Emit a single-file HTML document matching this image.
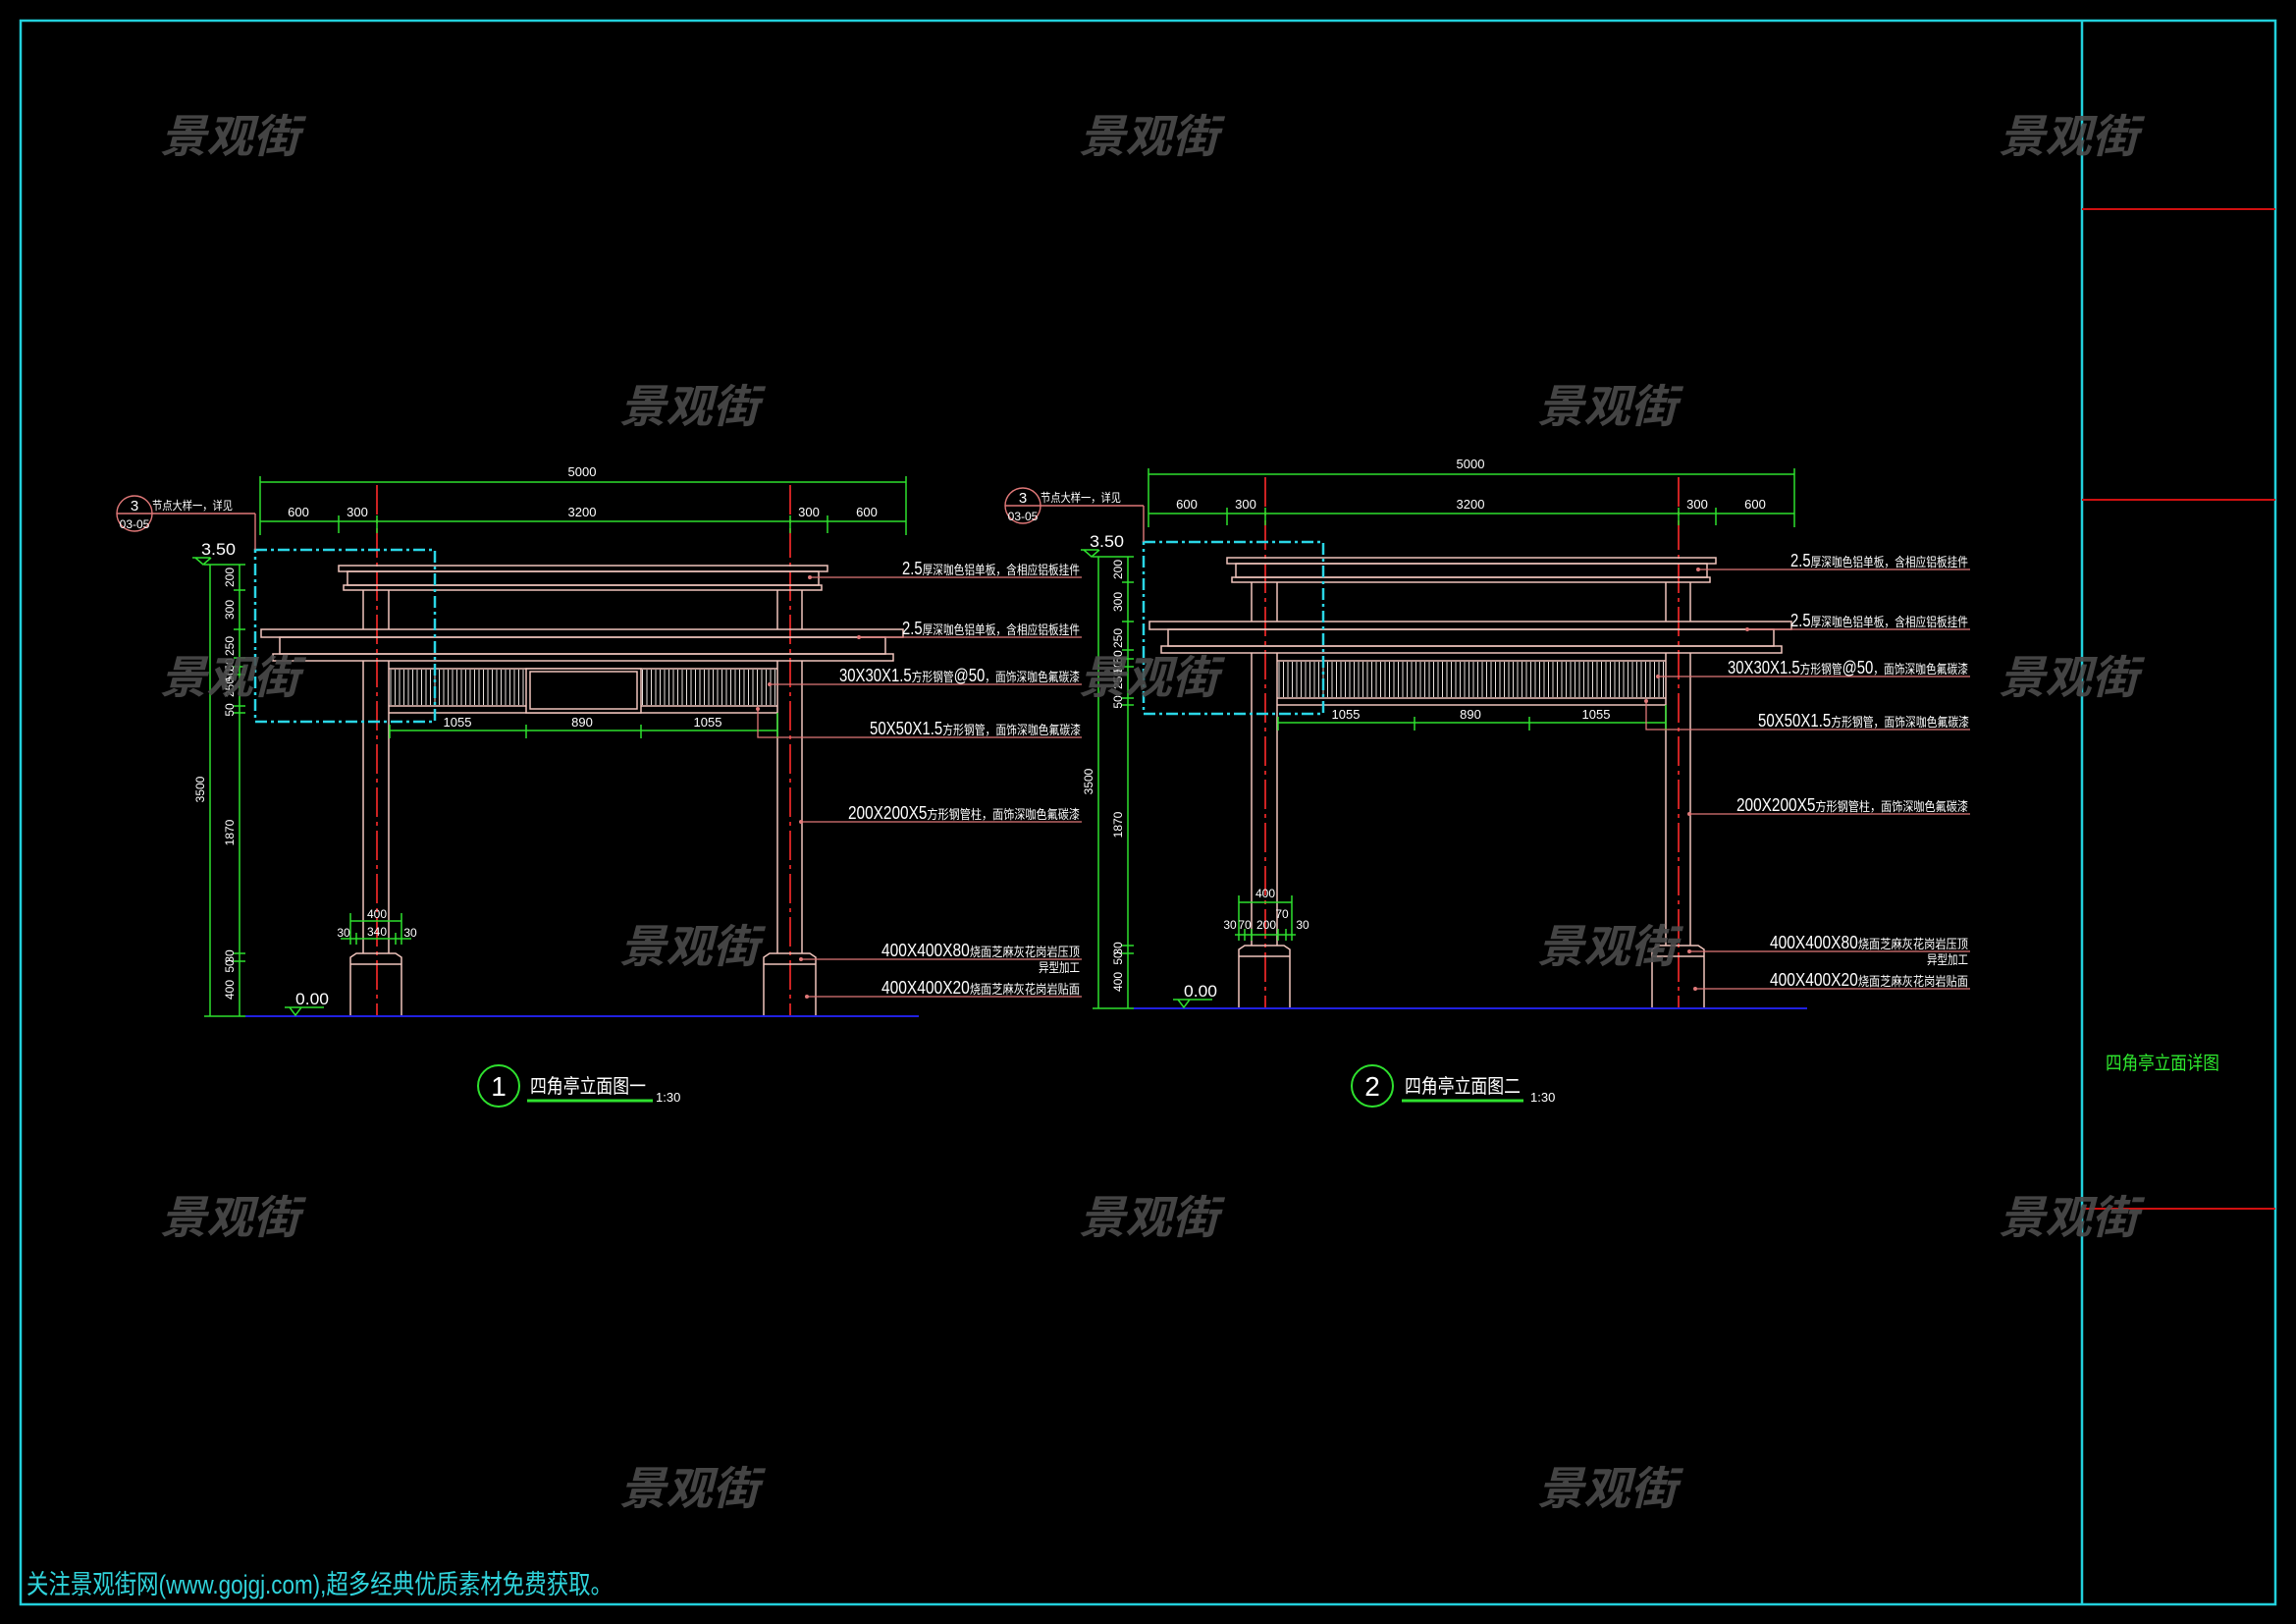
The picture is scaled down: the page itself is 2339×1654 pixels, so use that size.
<!DOCTYPE html>
<html><head><meta charset="utf-8"><style>
html,body{margin:0;padding:0;background:#000;}
svg{display:block;}
text{font-family:"Liberation Sans","Noto Sans CJK SC",sans-serif;}
</style></head><body>
<svg width="2339" height="1654" viewBox="0 0 2339 1654" xmlns="http://www.w3.org/2000/svg">
<defs>
<pattern id="lat" x="0" y="0" width="4.5" height="10" patternUnits="userSpaceOnUse">
<line x1="2" y1="0" x2="2" y2="10" stroke="#e8e0dc" stroke-width="1"/>
</pattern>
<g id="common">
 <!-- centerlines -->
 <g stroke="#ff2a2a" stroke-width="1.6" stroke-dasharray="30,5,4,5">
  <line x1="384" y1="494" x2="384" y2="1034"/>
  <line x1="805" y1="494" x2="805" y2="1034"/>
 </g>
 <!-- structure -->
 <g stroke="#f0c4bc" stroke-width="1.5" fill="none">
  <rect x="345" y="576" width="498" height="6"/>
  <rect x="354" y="582" width="480" height="14"/>
  <rect x="350" y="596" width="487" height="5"/>
  <line x1="370" y1="601" x2="370" y2="641"/><line x1="396" y1="601" x2="396" y2="641"/>
  <line x1="792" y1="601" x2="792" y2="641"/><line x1="817" y1="601" x2="817" y2="641"/>
  <rect x="266" y="641" width="654" height="8"/>
  <rect x="285" y="649" width="617" height="17"/>
  <rect x="278" y="666" width="632" height="7"/>
  <line x1="370" y1="673" x2="370" y2="971"/><line x1="396" y1="673" x2="396" y2="971"/>
  <line x1="792" y1="673" x2="792" y2="971"/><line x1="817" y1="673" x2="817" y2="971"/>
  <line x1="396" y1="681" x2="792" y2="681"/>
  <line x1="396" y1="719" x2="792" y2="719"/>
  <line x1="396" y1="726" x2="792" y2="726"/>
  <path d="M357 1035 V975 L363 971 H403 L409 975 V1035 M357 982 H409"/>
  <path d="M778 1035 V975 L784 971 H825 L831 975 V1035 M778 982 H831"/>
 </g>
 <rect x="397" y="682" width="394" height="36" fill="url(#lat)"/>
 <!-- ground -->
 <line x1="250" y1="1035" x2="936" y2="1035" stroke="#2020e0" stroke-width="2"/>
 <!-- cyan detail box -->
 <rect x="260" y="560" width="183" height="175" fill="none" stroke="#2ad6e6" stroke-width="2.5" stroke-dasharray="12,4,3,4"/>
 <!-- callout -->
 <g stroke="#e07878" stroke-width="1.4" fill="none">
  <circle cx="137" cy="523" r="18"/>
  <line x1="119" y1="523" x2="260" y2="523"/>
  <line x1="260" y1="523" x2="260" y2="560"/>
 </g>
 <text x="137" y="520" font-size="15" fill="#fff" text-anchor="middle">3</text>
 <text x="137" y="538" font-size="12" fill="#fff" text-anchor="middle">03-05</text>
 <text x="155" y="519" font-size="12" fill="#fff" textLength="82" lengthAdjust="spacingAndGlyphs">节点大样一，详见</text>
 <!-- dimensions -->
 <g stroke="#2ee02e" stroke-width="1.5" fill="none">
  <line x1="265" y1="491" x2="923" y2="491"/>
  <line x1="265" y1="531" x2="923" y2="531"/>
  <line x1="265" y1="485" x2="265" y2="545"/><line x1="923" y1="485" x2="923" y2="545"/>
  <line x1="345" y1="525" x2="345" y2="543"/><line x1="384" y1="525" x2="384" y2="543"/>
  <line x1="805" y1="525" x2="805" y2="543"/><line x1="843" y1="525" x2="843" y2="543"/>
  <line x1="397" y1="744" x2="792" y2="744"/>
  <line x1="397" y1="738" x2="397" y2="752"/><line x1="536" y1="738" x2="536" y2="752"/>
  <line x1="653" y1="738" x2="653" y2="752"/><line x1="792" y1="726" x2="792" y2="752"/>
  <line x1="214" y1="575" x2="214" y2="1035"/>
  <line x1="244" y1="575" x2="244" y2="1035"/>
  <path d="M208 575H250 M238 601H250 M238 641H250 M238 670H250 M238 679H250 M238 687H250 M238 719H250 M238 726H250 M238 971H250 M238 979H250 M208 1035H250"/>
  <path d="M196 568H214 M199 568L207 575L215 568"/>
  <path d="M290 1026H330 M295 1026L301 1034L307 1026"/>
 </g>
 <g fill="#fff" font-size="13" text-anchor="middle">
  <text x="593" y="485">5000</text>
  <text x="304" y="526">600</text><text x="364" y="526">300</text>
  <text x="593" y="526">3200</text><text x="824" y="526">300</text><text x="883" y="526">600</text>
  <text x="466" y="740">1055</text><text x="593" y="740">890</text><text x="721" y="740">1055</text>
 </g>
 <g fill="#fff" font-size="12" text-anchor="middle">
  <text transform="translate(238,588) rotate(-90)">200</text>
  <text transform="translate(238,621) rotate(-90)">300</text>
  <text transform="translate(238,658) rotate(-90)">250</text>
  <text transform="translate(238,677) rotate(-90)">50</text>
  <text transform="translate(238,688) rotate(-90)">50</text>
  <text transform="translate(238,700) rotate(-90)">250</text>
  <text transform="translate(238,723) rotate(-90)">50</text>
  <text transform="translate(238,848) rotate(-90)">1870</text>
  <text transform="translate(208,804) rotate(-90)">3500</text>
  <text transform="translate(238,974) rotate(-90)">30</text>
  <text transform="translate(238,984) rotate(-90)">50</text>
  <text transform="translate(238,1008) rotate(-90)">400</text>
 </g>
 <text x="205" y="565" font-size="17" fill="#fff" textLength="35" lengthAdjust="spacingAndGlyphs">3.50</text>
 <text x="301" y="1023" font-size="17" fill="#fff" textLength="34" lengthAdjust="spacingAndGlyphs">0.00</text>
 <!-- leaders -->
 <g stroke="#e07878" stroke-width="1.3" fill="none">
  <line x1="825" y1="588" x2="1102" y2="588"/>
  <line x1="875" y1="649" x2="1102" y2="649"/>
  <line x1="784" y1="697" x2="1102" y2="697"/>
  <path d="M772 722V751H1102"/>
  <line x1="816" y1="837" x2="1102" y2="837"/>
  <line x1="816" y1="977" x2="1102" y2="977"/>
  <line x1="822" y1="1015" x2="1102" y2="1015"/>
 </g>
 <g fill="#e07878">
  <circle cx="825" cy="588" r="2"/><circle cx="875" cy="649" r="2"/><circle cx="784" cy="697" r="2"/>
  <circle cx="772" cy="722" r="2"/><circle cx="816" cy="837" r="2"/><circle cx="816" cy="977" r="2"/><circle cx="822" cy="1015" r="2"/>
 </g>
 <g fill="#fff" font-size="18">
  <text x="919" y="585" textLength="181" lengthAdjust="spacingAndGlyphs">2.5<tspan font-size="13">厚深咖色铝单板，含相应铝板挂件</tspan></text>
  <text x="919" y="646" textLength="181" lengthAdjust="spacingAndGlyphs">2.5<tspan font-size="13">厚深咖色铝单板，含相应铝板挂件</tspan></text>
  <text x="855" y="694" textLength="245" lengthAdjust="spacingAndGlyphs">30X30X1.5<tspan font-size="13">方形钢管</tspan>@50<tspan font-size="13">，面饰深咖色氟碳漆</tspan></text>
  <text x="886" y="748" textLength="215" lengthAdjust="spacingAndGlyphs">50X50X1.5<tspan font-size="13">方形钢管，面饰深咖色氟碳漆</tspan></text>
  <text x="864" y="834" textLength="236" lengthAdjust="spacingAndGlyphs">200X200X5<tspan font-size="13">方形钢管柱，面饰深咖色氟碳漆</tspan></text>
  <text x="898" y="974" textLength="202" lengthAdjust="spacingAndGlyphs">400X400X80<tspan font-size="13">烧面芝麻灰花岗岩压顶</tspan></text>
  <text x="1058" y="990" font-size="13" textLength="42" lengthAdjust="spacingAndGlyphs">异型加工</text>
  <text x="898" y="1012" textLength="202" lengthAdjust="spacingAndGlyphs">400X400X20<tspan font-size="13">烧面芝麻灰花岗岩贴面</tspan></text>
 </g>
</g>
</defs>

<!-- frame -->
<rect x="21" y="21" width="2297" height="1613" fill="none" stroke="#22d0dc" stroke-width="2.5"/>
<line x1="2121" y1="21" x2="2121" y2="1634" stroke="#22d0dc" stroke-width="2.5"/>
<g stroke="#d01010" stroke-width="2">
 <line x1="2121" y1="213" x2="2318" y2="213"/>
 <line x1="2121" y1="509" x2="2318" y2="509"/>
 <line x1="2121" y1="1231" x2="2318" y2="1231"/>
</g>
<text x="2145" y="1089" font-size="19" fill="#2ee82e" textLength="116" lengthAdjust="spacingAndGlyphs">四角亭立面详图</text>

<!-- drawing 1 -->
<use href="#common"/>
<g stroke="#f0c4bc" stroke-width="1.5" fill="#000">
 <rect x="536" y="681" width="117" height="45"/>
 <rect x="540" y="684" width="109" height="38"/>
</g>
<g stroke="#2ee02e" stroke-width="1.5" fill="none">
 <path d="M357 938H409 M357 930V962 M409 930V962 M347 956H419 M363 950V962 M403 950V962"/>
</g>
<g fill="#fff" font-size="12" text-anchor="middle">
 <text x="384" y="935">400</text><text x="384" y="953">340</text>
 <text x="350" y="954">30</text><text x="418" y="954">30</text>
</g>

<!-- drawing 2 -->
<use href="#common" transform="translate(905,-8)"/>
<g stroke="#2ee02e" stroke-width="1.5" fill="none">
 <path d="M1262 919H1316 M1262 912V958 M1316 912V958 M1258 952H1320 M1268 946V958 M1275 946V958 M1302 946V958 M1310 946V958"/>
</g>
<g fill="#fff" font-size="12" text-anchor="middle">
 <text x="1289" y="914">400</text>
 <text x="1253" y="946">30</text><text x="1268" y="946">70</text><text x="1290" y="946">200</text>
 <text x="1306" y="935">70</text><text x="1327" y="946">30</text>
</g>

<!-- titles -->
<g fill="none" stroke="#2ee02e" stroke-width="2">
 <circle cx="508" cy="1106" r="21"/>
 <circle cx="1398" cy="1106" r="21"/>
</g>
<line x1="537" y1="1121" x2="665" y2="1121" stroke="#2ee02e" stroke-width="3"/>
<line x1="1428" y1="1121" x2="1552" y2="1121" stroke="#2ee02e" stroke-width="3"/>
<g fill="#fff">
 <text x="508" y="1116" font-size="28" text-anchor="middle">1</text>
 <text x="1398" y="1116" font-size="28" text-anchor="middle">2</text>
 <text x="540" y="1113" font-size="20" textLength="118" lengthAdjust="spacingAndGlyphs">四角亭立面图一</text>
 <text x="1431" y="1113" font-size="20" textLength="118" lengthAdjust="spacingAndGlyphs">四角亭立面图二</text>
 <text x="668" y="1122" font-size="13">1:30</text>
 <text x="1559" y="1122" font-size="13">1:30</text>
</g>

<text x="27" y="1623" font-size="27" fill="#30d4dc" textLength="597" lengthAdjust="spacingAndGlyphs">关注景观街网(www.gojgj.com),超多经典优质素材免费获取。</text>

<!-- watermarks -->
<g fill="#4c4c4c" font-size="46" font-style="italic" font-weight="bold" opacity="0.9">
 <text x="163" y="155" textLength="142" lengthAdjust="spacingAndGlyphs">景观街</text>
 <text x="1099" y="155" textLength="142" lengthAdjust="spacingAndGlyphs">景观街</text>
 <text x="2036" y="155" textLength="142" lengthAdjust="spacingAndGlyphs">景观街</text>
 <text x="631" y="430" textLength="142" lengthAdjust="spacingAndGlyphs">景观街</text>
 <text x="1566" y="430" textLength="142" lengthAdjust="spacingAndGlyphs">景观街</text>
 <text x="163" y="706" textLength="142" lengthAdjust="spacingAndGlyphs">景观街</text>
 <text x="1099" y="706" textLength="142" lengthAdjust="spacingAndGlyphs">景观街</text>
 <text x="2036" y="706" textLength="142" lengthAdjust="spacingAndGlyphs">景观街</text>
 <text x="631" y="980" textLength="142" lengthAdjust="spacingAndGlyphs">景观街</text>
 <text x="1566" y="980" textLength="142" lengthAdjust="spacingAndGlyphs">景观街</text>
 <text x="163" y="1256" textLength="142" lengthAdjust="spacingAndGlyphs">景观街</text>
 <text x="1099" y="1256" textLength="142" lengthAdjust="spacingAndGlyphs">景观街</text>
 <text x="2036" y="1256" textLength="142" lengthAdjust="spacingAndGlyphs">景观街</text>
 <text x="631" y="1532" textLength="142" lengthAdjust="spacingAndGlyphs">景观街</text>
 <text x="1566" y="1532" textLength="142" lengthAdjust="spacingAndGlyphs">景观街</text>
</g>
</svg>
</body></html>
